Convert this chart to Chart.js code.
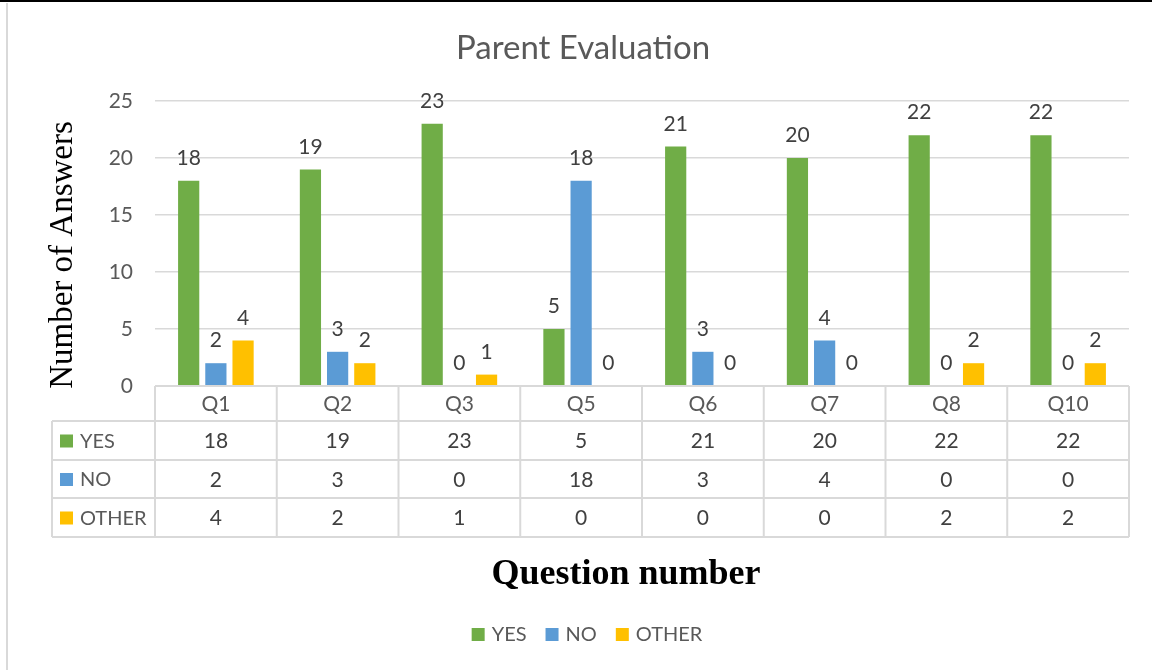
<!DOCTYPE html>
<html>
<head>
<meta charset="utf-8">
<script src="https://cdn.jsdelivr.net/npm/chart.js@4"></script>
<style>
body { margin: 0; background: #fff; }
#myChartdiv { width: 1153px; height: 670px; position: relative; }
</style>
</head>
<body>
<div id="myChartdiv"><canvas id="myChart"></canvas></div>
<script>
var questions = ["Q1", "Q2", "Q3", "Q5", "Q6", "Q7", "Q8", "Q10"];
var yes = [18, 19, 23, 5, 21, 20, 22, 22];
var no = [2, 3, 0, 18, 3, 4, 0, 0];
var other = [4, 2, 1, 0, 0, 0, 2, 2];
var seriesNames = ["YES", "NO", "OTHER"];
var seriesColors = ["#70ad47", "#5b9bd5", "#ffc000"];
var yTicks = [0, 5, 10, 15, 20, 25];

var seriesData = [yes, no, other];
var sans = "Lato, 'Open Sans', sans-serif";
var serif = "'Liberation Serif', 'DejaVu Serif', serif";

// labels, data table, titles, legend
var extras = {
    id: 'extras',
    afterDraw: function (chart) {
        var ctx = chart.ctx;
        var area = chart.chartArea;
        ctx.save();

        // page borders around the picture
        ctx.fillStyle = '#000';
        ctx.fillRect(0, 0, 1152, 2);
        ctx.fillStyle = '#d9d9d9';
        ctx.fillRect(6, 3, 2, 667);

        // value labels on top of the bars
        ctx.font = '21px ' + sans;
        ctx.fillStyle = '#404040';
        ctx.textAlign = 'center';
        ctx.textBaseline = 'bottom';
        chart.data.datasets.forEach(function (ds, i) {
            var meta = chart.getDatasetMeta(i);
            meta.data.forEach(function (bar, j) {
                ctx.fillText(String(ds.data[j]), bar.x, bar.y - 12);
            });
        });

        // data table
        var n = questions.length;
        var colW = (area.right - area.left) / n;
        var top = area.bottom;
        var rows = [top, top + 35, top + 74, top + 112, top + 151];
        var tableLeft = 52;
        ctx.strokeStyle = '#d9d9d9';
        ctx.lineWidth = 2;
        ctx.beginPath();
        ctx.moveTo(area.left, rows[0]);
        ctx.lineTo(area.right, rows[0]);
        for (var r = 1; r < rows.length; r++) {
            ctx.moveTo(tableLeft, rows[r]);
            ctx.lineTo(area.right, rows[r]);
        }
        for (var c = 0; c <= n; c++) {
            var x = area.left + c * colW;
            ctx.moveTo(x, rows[0]);
            ctx.lineTo(x, rows[4]);
        }
        ctx.moveTo(tableLeft, rows[1]);
        ctx.lineTo(tableLeft, rows[4]);
        ctx.stroke();

        ctx.textBaseline = 'middle';
        ctx.font = '21px ' + sans;
        for (var c2 = 0; c2 < n; c2++) {
            var cx = area.left + (c2 + 0.5) * colW;
            ctx.fillStyle = '#595959';
            ctx.fillText(questions[c2], cx, (rows[0] + rows[1]) / 2 + 1);
            ctx.fillStyle = '#404040';
            for (var s = 0; s < 3; s++) {
                ctx.fillText(String(seriesData[s][c2]), cx, (rows[s + 1] + rows[s + 2]) / 2 + 1);
            }
        }
        ctx.textAlign = 'left';
        ctx.font = '20px ' + sans;
        for (var s2 = 0; s2 < 3; s2++) {
            var cy = (rows[s2 + 1] + rows[s2 + 2]) / 2;
            ctx.fillStyle = seriesColors[s2];
            ctx.fillRect(60, cy - 6, 13, 13);
            ctx.fillStyle = '#595959';
            ctx.fillText(seriesNames[s2], 80, cy + 1);
        }

        // chart title
        ctx.textAlign = 'center';
        ctx.font = '33px ' + sans;
        ctx.fillStyle = '#595959';
        ctx.fillText('Parent Evaluation', 583, 48);

        // axis titles
        ctx.fillStyle = '#000';
        ctx.font = 'bold 36px ' + serif;
        ctx.fillText('Question number', 626, 575);

        ctx.save();
        ctx.translate(63, 255);
        ctx.rotate(-Math.PI / 2);
        ctx.font = '33px ' + serif;
        ctx.fillText('Number of Answers', 0, 0);
        ctx.restore();

        // legend
        ctx.font = '20px ' + sans;
        ctx.textAlign = 'left';
        var gap = 19, box = 13;
        var total = 0;
        seriesNames.forEach(function (nm) { total += box + 7 + ctx.measureText(nm).width; });
        total += gap * (seriesNames.length - 1);
        var lx = 587 - total / 2;
        seriesNames.forEach(function (nm, k) {
            ctx.fillStyle = seriesColors[k];
            ctx.fillRect(lx, 628, box, box);
            ctx.fillStyle = '#595959';
            ctx.fillText(nm, lx + box + 7, 635);
            lx += box + 7 + ctx.measureText(nm).width + gap;
        });

        ctx.restore();
    }
};

var ctx = document.getElementById('myChart').getContext('2d');
var myChart = new Chart(ctx, {
    type: 'bar',
    data: {
        labels: questions,
        datasets: seriesNames.map(function (nm, i) {
            return {
                label: nm,
                data: seriesData[i],
                backgroundColor: seriesColors[i],
                categoryPercentage: 0.67,
                barPercentage: 0.78
            };
        })
    },
    options: {
        responsive: true,
        maintainAspectRatio: false,
        animation: false,
        layout: { padding: { left: 0, right: 24, top: 101, bottom: 284 } },
        plugins: {
            legend: { display: false },
            title: { display: false },
            tooltip: { enabled: false }
        },
        scales: {
            x: { display: false },
            y: {
                min: 0,
                max: 25,
                afterFit: function (scale) { scale.width = 155; },
                afterBuildTicks: function (scale) {
                    scale.ticks = yTicks.map(function (v) { return { value: v }; });
                },
                border: { display: false },
                grid: { color: '#d9d9d9', lineWidth: 1.5, drawTicks: false },
                ticks: {
                    padding: 22,
                    color: '#595959',
                    font: { family: sans, size: 21 }
                }
            }
        }
    },
    plugins: [extras]
});
</script>
</body>
</html>
